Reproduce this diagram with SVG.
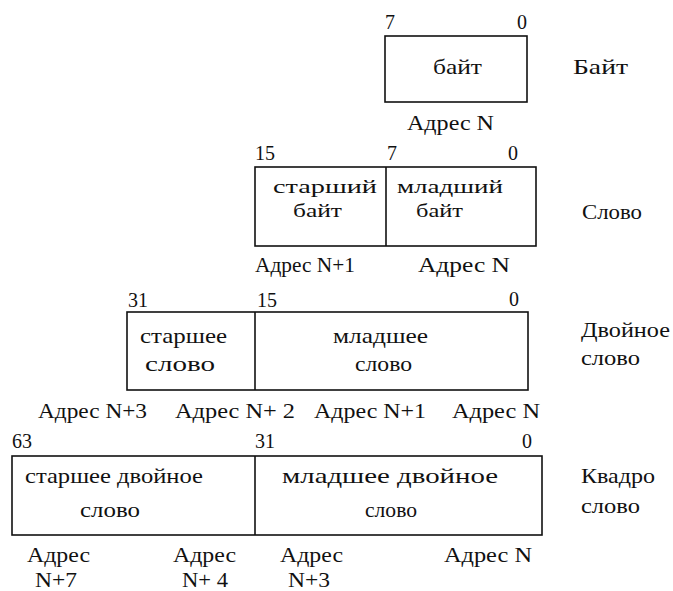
<svg xmlns="http://www.w3.org/2000/svg" width="673" height="591" viewBox="0 0 673 591">
<style>
text{font-family:'Liberation Serif','DejaVu Serif',serif;fill:#111;font-size:21px}
.n{font-size:20px}
.s{font-size:19px}
.box{fill:none;stroke:#111;stroke-width:1.6}
.e{text-anchor:end}
</style>
<rect width="673" height="591" fill="#fff"/>
<g id="byte">
<rect class="box" x="385" y="36" width="142" height="66"/>
<text class="n" x="385" y="29">7</text>
<text class="n e" x="527" y="29">0</text>
<text x="433" y="74" textLength="49" lengthAdjust="spacingAndGlyphs">байт</text>
<text x="407" y="130" textLength="87" lengthAdjust="spacingAndGlyphs">Адрес N</text>
<text x="573" y="74" textLength="55" lengthAdjust="spacingAndGlyphs">Байт</text>
</g>
<g id="word">
<rect class="box" x="255" y="167" width="281" height="79"/>
<line class="box" x1="386" y1="167" x2="386" y2="246"/>
<text class="n" x="255" y="160">15</text>
<text class="n" x="387" y="160">7</text>
<text class="n e" x="518" y="160">0</text>
<text class="s" x="273" y="193" textLength="104" lengthAdjust="spacingAndGlyphs">старший</text>
<text class="s" x="293" y="217" textLength="49" lengthAdjust="spacingAndGlyphs">байт</text>
<text class="s" x="397" y="193" textLength="106" lengthAdjust="spacingAndGlyphs">младший</text>
<text class="s" x="416" y="217" textLength="47" lengthAdjust="spacingAndGlyphs">байт</text>
<text x="255" y="272" textLength="100" lengthAdjust="spacingAndGlyphs">Адрес N+1</text>
<text x="418" y="272" textLength="92" lengthAdjust="spacingAndGlyphs">Адрес N</text>
<text x="582" y="219" textLength="60" lengthAdjust="spacingAndGlyphs">Слово</text>
</g>
<g id="dword">
<rect class="box" x="127" y="312" width="401" height="78"/>
<line class="box" x1="255" y1="312" x2="255" y2="390"/>
<text class="n" x="128" y="307">31</text>
<text class="n" x="257" y="307">15</text>
<text class="n e" x="519" y="306">0</text>
<text x="140" y="343" textLength="87" lengthAdjust="spacingAndGlyphs">старшее</text>
<text x="145" y="371" textLength="70" lengthAdjust="spacingAndGlyphs">слово</text>
<text x="333" y="343" textLength="95" lengthAdjust="spacingAndGlyphs">младшее</text>
<text x="355" y="371" textLength="57" lengthAdjust="spacingAndGlyphs">слово</text>
<text x="38" y="418" textLength="109" lengthAdjust="spacingAndGlyphs">Адрес N+3</text>
<text x="175" y="418" textLength="120" lengthAdjust="spacingAndGlyphs">Адрес N+ 2</text>
<text x="314" y="418" textLength="112" lengthAdjust="spacingAndGlyphs">Адрес N+1</text>
<text x="452" y="418" textLength="88" lengthAdjust="spacingAndGlyphs">Адрес N</text>
<text x="581" y="337" textLength="89" lengthAdjust="spacingAndGlyphs">Двойное</text>
<text x="581" y="365" textLength="59" lengthAdjust="spacingAndGlyphs">слово</text>
</g>
<g id="qword">
<rect class="box" x="12" y="456" width="530" height="79"/>
<line class="box" x1="255" y1="456" x2="255" y2="535"/>
<text class="n" x="12" y="448">63</text>
<text class="n" x="255" y="448">31</text>
<text class="n e" x="532" y="448">0</text>
<text x="25" y="483" textLength="178" lengthAdjust="spacingAndGlyphs">старшее двойное</text>
<text x="80" y="517" textLength="60" lengthAdjust="spacingAndGlyphs">слово</text>
<text x="282" y="483" textLength="216" lengthAdjust="spacingAndGlyphs">младшее двойное</text>
<text x="365" y="517" textLength="52" lengthAdjust="spacingAndGlyphs">слово</text>
<text x="27" y="562" textLength="63" lengthAdjust="spacingAndGlyphs">Адрес</text>
<text x="35" y="587" textLength="42" lengthAdjust="spacingAndGlyphs">N+7</text>
<text x="173" y="562" textLength="63" lengthAdjust="spacingAndGlyphs">Адрес</text>
<text x="182" y="587" textLength="46" lengthAdjust="spacingAndGlyphs">N+ 4</text>
<text x="280" y="562" textLength="63" lengthAdjust="spacingAndGlyphs">Адрес</text>
<text x="288" y="587" textLength="42" lengthAdjust="spacingAndGlyphs">N+3</text>
<text x="444" y="562" textLength="88" lengthAdjust="spacingAndGlyphs">Адрес N</text>
<text x="581" y="483" textLength="74" lengthAdjust="spacingAndGlyphs">Квадро</text>
<text x="581" y="513" textLength="59" lengthAdjust="spacingAndGlyphs">слово</text>
</g>
</svg>
